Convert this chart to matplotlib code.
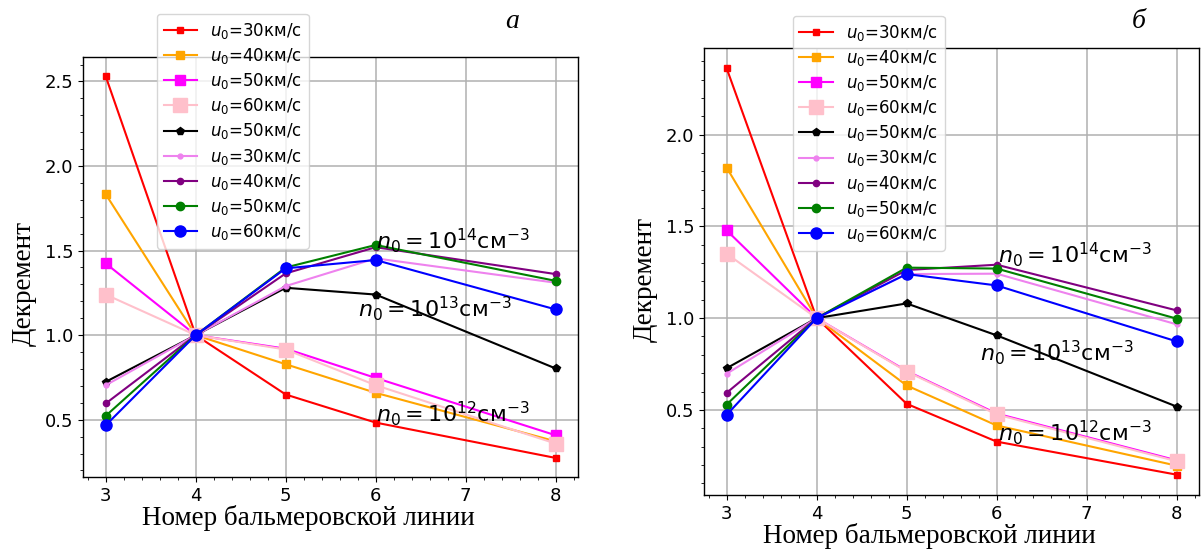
import numpy as np
import matplotlib
matplotlib.use("Agg")
import matplotlib.pyplot as plt

# номера бальмеровских линий
lines_n = [3, 4, 5, 6, 8]

labels = [r"$u_0$=30км/с", r"$u_0$=40км/с", r"$u_0$=50км/с", r"$u_0$=60км/с",
          r"$u_0$=50км/с", r"$u_0$=30км/с", r"$u_0$=40км/с", r"$u_0$=50км/с",
          r"$u_0$=60км/с"]

# панель а
a_red = [2.53, 1.0, 0.649, 0.483, 0.274]
a_orange = [1.833, 1.0, 0.828, 0.659, 0.372]
a_magenta = [1.424, 1.0, 0.92, 0.747, 0.408]
a_pink = [1.24, 1.0, 0.915, 0.704, 0.359]
a_black = [0.724, 1.0, 1.28, 1.24, 0.803]
a_violet = [0.704, 1.0, 1.29, 1.454, 1.31]
a_purple = [0.596, 1.0, 1.365, 1.52, 1.361]
a_green = [0.523, 1.0, 1.40, 1.533, 1.321]
a_blue = [0.467, 1.0, 1.395, 1.444, 1.152]

# панель б
b_red = [2.361, 1.0, 0.533, 0.327, 0.147]
b_orange = [1.82, 1.0, 0.633, 0.415, 0.196]
b_magenta = [1.478, 1.0, 0.712, 0.48, 0.225]
b_pink = [1.351, 1.0, 0.709, 0.475, 0.22]
b_black = [0.727, 1.0, 1.08, 0.906, 0.518]
b_violet = [0.697, 1.0, 1.24, 1.242, 0.966]
b_purple = [0.593, 1.0, 1.262, 1.291, 1.042]
b_green = [0.529, 1.0, 1.275, 1.27, 0.997]
b_blue = [0.473, 1.0, 1.24, 1.178, 0.873]

styles = [('red', 's', 4), ('orange', 's', 5.5), ('magenta', 's', 7.5),
          ('pink', 's', 9.5), ('black', 'p', 6), ('violet', 'o', 3.5),
          ('purple', 'o', 4.5), ('green', 'o', 6), ('blue', 'o', 8)]

fig = plt.figure(figsize=(12.01, 5.53), dpi=100)
ax1 = fig.add_axes([0.0693, 0.1374, 0.4121, 0.759])
ax2 = fig.add_axes([0.5863, 0.1049, 0.4122, 0.8083])

panels = [
    (ax1, [a_red, a_orange, a_magenta, a_pink, a_black, a_violet, a_purple, a_green, a_blue],
     [(6.0, 1.51), (5.8, 1.11), (6.0, 0.487)], (0.149, 1.103), 0.462),
    (ax2, [b_red, b_orange, b_magenta, b_pink, b_black, b_violet, b_purple, b_green, b_blue],
     [(6.01, 1.30), (5.81, 0.77), (6.01, 0.333)], (0.179, 1.0716), 0.481),
]

for ax, series, txt, anchor, ylab_y in panels:
    for vals, (c, m, ms), lab in zip(series, styles, labels):
        ax.plot(lines_n, vals, color=c, marker=m, ms=ms, lw=1.5, label=lab)
    ax.grid(True, lw=1.1)
    ax.minorticks_on()
    ax.tick_params(labelsize=13)
    for s in ax.spines.values():
        s.set_linewidth(1.0)
    ax.set_xlabel("Номер бальмеровской линии", family='Liberation Serif', fontsize=19.5, labelpad=0)
    ax.set_ylabel("Декремент", family='Liberation Serif', fontsize=19.5, labelpad=6)
    ax.xaxis.label.set_x(0.454)
    ax.yaxis.label.set_y(ylab_y)
    ax.text(*txt[0], r"$n_0=10^{14}$см$^{-3}$", fontsize=16)
    ax.text(*txt[1], r"$n_0=10^{13}$см$^{-3}$", fontsize=16)
    ax.text(*txt[2], r"$n_0=10^{12}$см$^{-3}$", fontsize=16)
    ax.legend(loc='upper left', bbox_to_anchor=anchor, borderaxespad=0, fontsize=12,
              labelspacing=0.31)

fig.text(0.4263, 0.962, "а", family='Liberation Serif', style='italic', fontsize=20, ha='center', va='center')
fig.text(0.948, 0.962, "б", family='Liberation Serif', style='italic', fontsize=20, ha='center', va='center')

plt.savefig("out.png", dpi=100)
